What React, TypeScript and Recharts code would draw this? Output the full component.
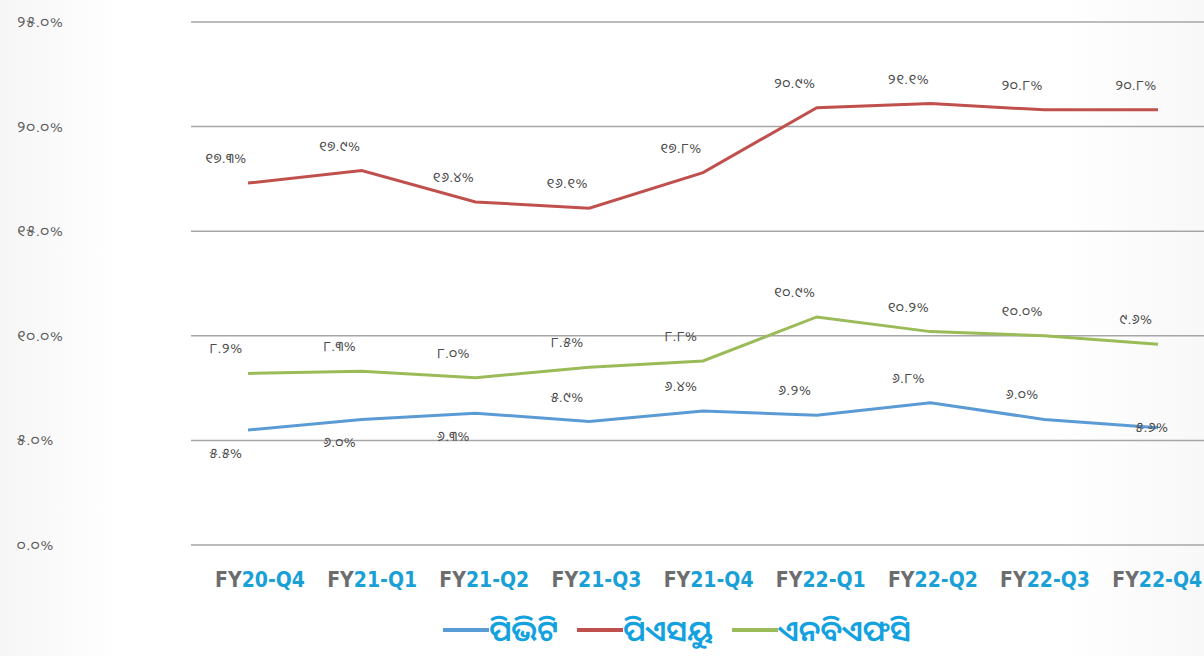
import { LineChart, Line, XAxis, YAxis, CartesianGrid, Legend, LabelList } from "recharts";

// ---------------------------------------------------------------------------
// Data
// ---------------------------------------------------------------------------

const quarters = ["FY20-Q4", "FY21-Q1", "FY21-Q2", "FY21-Q3", "FY21-Q4", "FY22-Q1", "FY22-Q2", "FY22-Q3", "FY22-Q4"];

const pvbValues = [5.5, 6.0, 6.3, 5.9, 6.4, 6.2, 6.8, 6.0, 5.6];
const psuValues = [17.3, 17.9, 16.4, 16.1, 17.8, 20.9, 21.1, 20.8, 20.8];
const nbfcValues = [8.2, 8.3, 8.0, 8.5, 8.8, 10.9, 10.2, 10.0, 9.6];

const yTicks = [0, 5, 10, 15, 20, 25];

const seriesNames = { pvb: "ପିଭିଟି", psu: "ପିଏସୟୁ", nbfc: "ଏନବିଏଫସି" };

const data = quarters.map((q, i) => ({
  name: q,
  pvb: pvbValues[i],
  psu: psuValues[i],
  nbfc: nbfcValues[i],
}));

// ---------------------------------------------------------------------------
// Helpers
// ---------------------------------------------------------------------------

const ODIA_FONT = '"Noto Sans Oriya", "Lohit Odia", "Noto Sans", "DejaVu Sans", sans-serif';

/** 12.3 -> "୧୨.୩%" */
function odiaPct(v: number): string {
  return (
    v
      .toFixed(1)
      .replace(/[0-9]/g, (d) => String.fromCharCode(0x0b66 + Number(d))) + "%"
  );
}

// tick labels drift slightly left of the points towards the right edge
function XTick({ x, y, payload, index }: any) {
  const label: string = payload.value;
  const shift = 12 - (index ?? 0) * 1.6;
  return (
    <text x={x + shift} y={y} dy={34} textAnchor="middle" fontFamily='"DejaVu Sans Condensed", "DejaVu Sans", sans-serif' fontWeight="bold" fontSize={21}>
      <tspan fill="#6d6d6d">{label.slice(0, 2)}</tspan>
      <tspan fill="#1a9fd6">{label.slice(2)}</tspan>
    </text>
  );
}

function YTick({ y, payload }: any) {
  return (
    <text x={17} y={y} dy={5} textAnchor="start" fontFamily={ODIA_FONT} fontSize={15} fill="#5a5a5a" letterSpacing={1}>
      {odiaPct(payload.value)}
    </text>
  );
}

function makeLabel(place: (i: number) => "above" | "below" | "center") {
  return function PointLabel({ x, y, value, index }: any) {
    const p = place(index);
    const dy = p === "above" ? -20 : p === "below" ? 28 : 4;
    const dx = p === "center" ? -6 : -22;
    return (
      <text x={x + dx} y={y + dy} textAnchor="middle" fontFamily={ODIA_FONT} fontSize={14} fill="#4a4a4a" letterSpacing={0.5}>
        {odiaPct(value)}
      </text>
    );
  };
}

const pvbLabel = makeLabel((i) => (i < 3 ? "below" : i === 8 ? "center" : "above"));
const psuLabel = makeLabel(() => "above");
const nbfcLabel = makeLabel(() => "above");

function LegendContent() {
  const items = [
    { key: "pvb", color: "#5b9bd5" },
    { key: "psu", color: "#c0504d" },
    { key: "nbfc", color: "#9bbb59" },
  ] as const;
  return (
    <div style={{ display: "flex", justifyContent: "center", gap: 19, paddingLeft: 150 }}>
      {items.map((it) => (
        <div key={it.key} style={{ display: "flex", alignItems: "center" }}>
          <span style={{ display: "inline-block", width: 46, height: 4, background: it.color }} />
          <span style={{ fontFamily: ODIA_FONT, fontSize: 29, fontWeight: 600, color: "#14a2df", lineHeight: "36px" }}>
            {seriesNames[it.key]}
          </span>
        </div>
      ))}
    </div>
  );
}

// ---------------------------------------------------------------------------
// Component
// ---------------------------------------------------------------------------

export default function App() {
  return (
    <div style={{ position: "absolute", left: 0, top: 0, width: 1204, height: 656, overflow: "hidden", background: "linear-gradient(90deg, #f6f6f6 0%, #ffffff 10%, #ffffff 88%, #f8f8f8 100%)" }}>
      <LineChart width={1204} height={656} data={data} margin={{ top: 22, right: 0, bottom: 0, left: 0 }}>
        <CartesianGrid stroke="#a6a6a6" strokeWidth={1.5} vertical={false} />
        <XAxis dataKey="name" tick={<XTick />} axisLine={false} tickLine={false} height={61} interval={0} padding={{ left: 57, right: 46 }} />
        <YAxis domain={[0, 25]} ticks={yTicks} tick={<YTick />} axisLine={false} tickLine={false} width={191} />
        <Legend verticalAlign="bottom" height={50} content={<LegendContent />} wrapperStyle={{ top: 612 }} />
        <Line dataKey="pvb" stroke="#5b9bd5" strokeWidth={3} dot={false} isAnimationActive={false}>
          <LabelList dataKey="pvb" content={pvbLabel} />
        </Line>
        <Line dataKey="psu" stroke="#c0504d" strokeWidth={3} dot={false} isAnimationActive={false}>
          <LabelList dataKey="psu" content={psuLabel} />
        </Line>
        <Line dataKey="nbfc" stroke="#9bbb59" strokeWidth={3} dot={false} isAnimationActive={false}>
          <LabelList dataKey="nbfc" content={nbfcLabel} />
        </Line>
      </LineChart>
    </div>
  );
}
